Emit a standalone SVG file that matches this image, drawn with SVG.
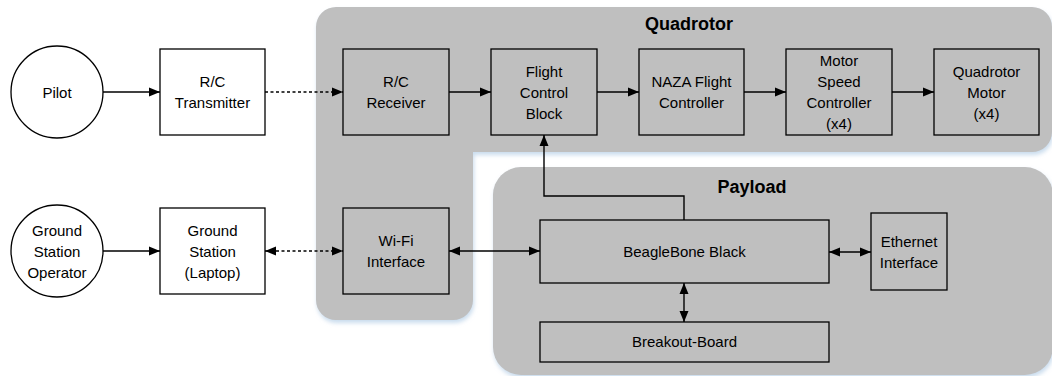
<svg xmlns="http://www.w3.org/2000/svg" width="1052" height="376" viewBox="0 0 1052 376">
<style>
.grp{fill:#bfbfbf;filter:url(#sh)}
.box{fill:#ffffff;stroke:#000;stroke-width:1.3}
.ibox{fill:#bfbfbf;stroke:#000;stroke-width:1.3}
.t{font-family:"Liberation Sans",Arial,sans-serif;font-size:15px;fill:#000;text-anchor:middle}
.title{font-family:"Liberation Sans",Arial,sans-serif;font-size:18px;font-weight:bold;fill:#000;text-anchor:middle}
.c{fill:none;stroke:#000;stroke-width:1.4}
.d{stroke-dasharray:3,2.5}
</style>
<defs>
<filter id="sh" x="-5%" y="-5%" width="110%" height="115%">
<feDropShadow dx="1" dy="3" stdDeviation="2" flood-color="#b4cde6" flood-opacity="0.7"/>
</filter>
<marker id="ah" markerUnits="userSpaceOnUse" markerWidth="12" markerHeight="10" refX="11" refY="5" orient="auto-start-reverse">
<path d="M0,0.5 L11,5 L0,9.5 Z" fill="#000"/>
</marker>
</defs>

<g id="quadrotor-group">
<path class="grp" d="M336,7 H1032 A20,20 0 0 1 1052,27 V132 A20,20 0 0 1 1032,152 H473 V300 A20,20 0 0 1 453,320 H336 A20,20 0 0 1 316,300 V27 A20,20 0 0 1 336,7 Z"/>
<text class="title" x="689" y="30">Quadrotor</text>
</g>
<g id="payload-group">
<rect class="grp" x="493" y="167" width="560" height="208" rx="28"/>
<text class="title" x="752" y="193">Payload</text>
</g>

<g id="pilot">
<circle cx="57" cy="92" r="46" fill="#fff" stroke="#000" stroke-width="1.3"/>
<text class="t" x="57" y="97.5">Pilot</text>
</g>
<g id="rc-transmitter">
<rect class="box" x="160" y="49" width="105" height="86"/>
<text class="t" x="212.5" y="87">R/C</text>
<text class="t" x="212.5" y="108">Transmitter</text>
</g>
<g id="rc-receiver">
<rect class="ibox" x="343" y="49" width="106" height="86"/>
<text class="t" x="396" y="87">R/C</text>
<text class="t" x="396" y="108">Receiver</text>
</g>
<g id="flight-control-block">
<rect class="ibox" x="491" y="49" width="106" height="86"/>
<text class="t" x="544" y="77">Flight</text>
<text class="t" x="544" y="98">Control</text>
<text class="t" x="544" y="119">Block</text>
</g>
<g id="naza">
<rect class="ibox" x="639" y="49" width="105" height="86"/>
<text class="t" x="691.5" y="87">NAZA Flight</text>
<text class="t" x="691.5" y="108">Controller</text>
</g>
<g id="motor-speed-controller">
<rect class="ibox" x="786" y="49" width="106" height="86"/>
<text class="t" x="839" y="66">Motor</text>
<text class="t" x="839" y="87">Speed</text>
<text class="t" x="839" y="108">Controller</text>
<text class="t" x="839" y="129">(x4)</text>
</g>
<g id="quadrotor-motor">
<rect class="ibox" x="934" y="49" width="105" height="86"/>
<text class="t" x="986.5" y="77">Quadrotor</text>
<text class="t" x="986.5" y="98">Motor</text>
<text class="t" x="986.5" y="119">(x4)</text>
</g>

<g id="ground-station-operator">
<circle cx="57" cy="251" r="46" fill="#fff" stroke="#000" stroke-width="1.3"/>
<text class="t" x="57" y="236">Ground</text>
<text class="t" x="57" y="257">Station</text>
<text class="t" x="57" y="278">Operator</text>
</g>
<g id="ground-station">
<rect class="box" x="160" y="208" width="105" height="86"/>
<text class="t" x="212.5" y="236">Ground</text>
<text class="t" x="212.5" y="257">Station</text>
<text class="t" x="212.5" y="278">(Laptop)</text>
</g>
<g id="wifi-interface">
<rect class="ibox" x="343" y="208" width="106" height="86"/>
<text class="t" x="396" y="246">Wi-Fi</text>
<text class="t" x="396" y="267">Interface</text>
</g>
<g id="beaglebone-black">
<rect class="ibox" x="540" y="220" width="289" height="63"/>
<text class="t" x="684.5" y="257">BeagleBone Black</text>
</g>
<g id="ethernet-interface">
<rect class="ibox" x="871" y="213" width="76" height="77"/>
<text class="t" x="909" y="246.5">Ethernet</text>
<text class="t" x="909" y="267.5">Interface</text>
</g>
<g id="breakout-board">
<rect class="ibox" x="540" y="322" width="289" height="40"/>
<text class="t" x="684.5" y="347">Breakout-Board</text>
</g>

<g id="connectors">
<path class="c" d="M103,92 H160" marker-end="url(#ah)"/>
<path class="c d" d="M265,92 H343" marker-end="url(#ah)"/>
<path class="c" d="M449,92 H491" marker-end="url(#ah)"/>
<path class="c" d="M597,92 H639" marker-end="url(#ah)"/>
<path class="c" d="M744,92 H786" marker-end="url(#ah)"/>
<path class="c" d="M892,92 H934" marker-end="url(#ah)"/>
<path class="c" d="M684,220 V196 H544 V135" marker-end="url(#ah)"/>
<path class="c" d="M103,251 H160" marker-end="url(#ah)"/>
<path class="c d" d="M265,251 H343" marker-start="url(#ah)" marker-end="url(#ah)"/>
<path class="c" d="M449,251 H540" marker-start="url(#ah)" marker-end="url(#ah)"/>
<path class="c" d="M829,252 H871" marker-start="url(#ah)" marker-end="url(#ah)"/>
<path class="c" d="M684,283 V322" marker-start="url(#ah)" marker-end="url(#ah)"/>
</g>
</svg>
